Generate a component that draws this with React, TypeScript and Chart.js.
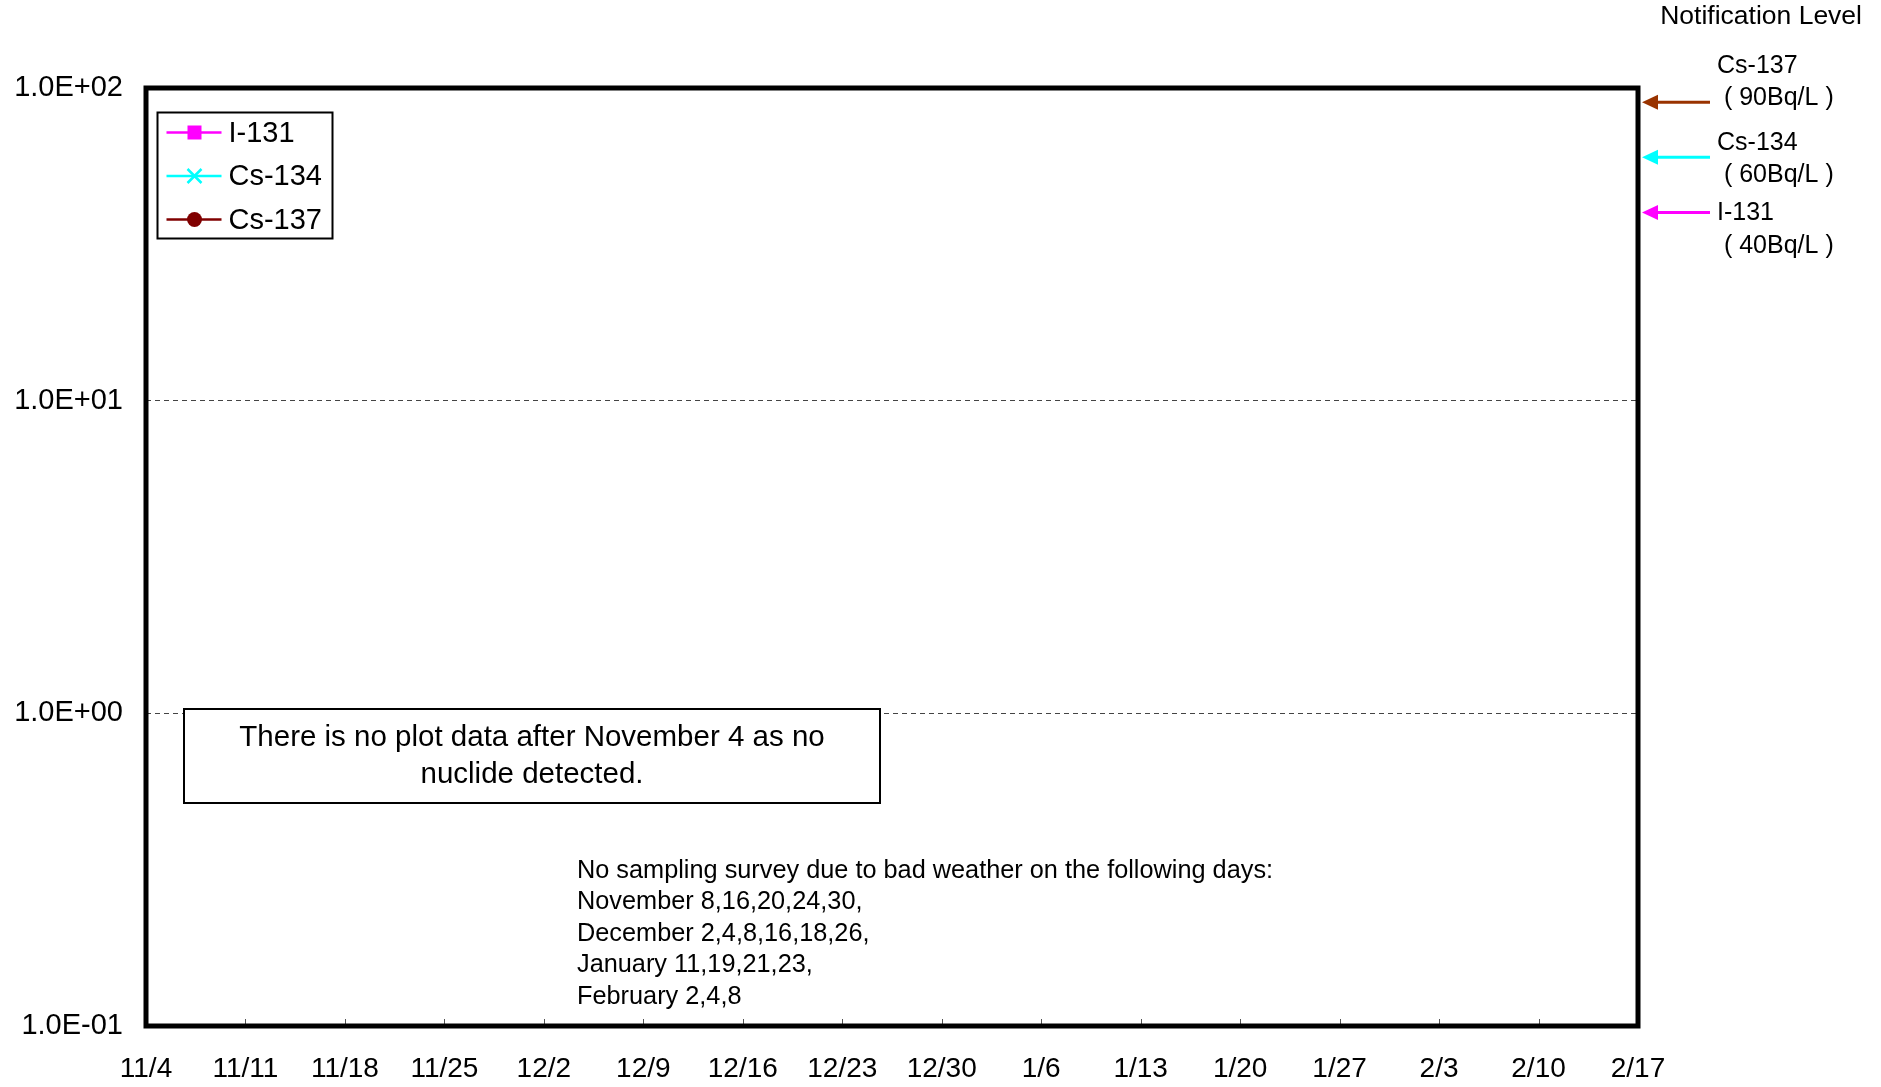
import React, { useEffect, useRef } from 'react';
import { Chart, registerables } from 'chart.js';

Chart.register(...registerables);

// weekly x-axis labels
const xLabels = ['11/4', '11/11', '11/18', '11/25', '12/2', '12/9', '12/16', '12/23', '12/30', '1/6', '1/13', '1/20', '1/27', '2/3', '2/10', '2/17'];

// y-axis decades and their labels
const yTickValues = [0.1, 1, 10, 100];
const yTickLabels = ['1.0E-01', '1.0E+00', '1.0E+01', '1.0E+02'];

// no nuclide detected after 11/4, so the series are empty
const i131Values: (number | null)[] = [];
const cs134Values: (number | null)[] = [];
const cs137Values: (number | null)[] = [];

// notification levels (Bq/L)
const levelNames = ['Cs-137', 'Cs-134', 'I-131'];
const levelValues = [90, 60, 40];
const levelLabels = [' ( 90Bq/L )', ' ( 60Bq/L )', ' ( 40Bq/L )'];
const levelColors = ['#993300', '#00FFFF', '#FF00FF'];

const noDataNote = ['There is no plot data after November 4 as no', 'nuclide detected.'];
const weatherNote = [
  'No sampling survey due to bad weather on the following days:',
  'November 8,16,20,24,30,',
  'December 2,4,8,16,18,26,',
  'January 11,19,21,23,',
  'February 2,4,8',
];

const FONT = "'Liberation Sans', Arial, 'Noto Sans CJK JP', sans-serif";

const drawMarker = (ctx: CanvasRenderingContext2D, style: string, x: number, y: number, color: string) => {
  ctx.save();
  ctx.fillStyle = color;
  ctx.strokeStyle = color;
  if (style === 'rect') {
    ctx.fillRect(x - 7, y - 7, 14, 14);
  } else if (style === 'cross') {
    ctx.lineWidth = 2.5;
    ctx.beginPath();
    ctx.moveTo(x - 7, y - 7);
    ctx.lineTo(x + 7, y + 7);
    ctx.moveTo(x + 7, y - 7);
    ctx.lineTo(x - 7, y + 7);
    ctx.stroke();
  } else {
    ctx.beginPath();
    ctx.arc(x, y, 7.5, 0, Math.PI * 2);
    ctx.fill();
  }
  ctx.restore();
};

const decorPlugin = {
  id: 'decor',
  afterDatasetsDraw(chart: any) {
    const { ctx, chartArea: a, scales } = chart;
    const x = scales.x;
    const y = scales.y;
    ctx.save();

    // inward tick marks on the x axis
    ctx.strokeStyle = '#555';
    ctx.lineWidth = 1;
    x.ticks.forEach((_t: any, i: number) => {
      const px = Math.round(x.getPixelForTick(i)) + 0.5;
      ctx.beginPath();
      ctx.moveTo(px, a.bottom);
      ctx.lineTo(px, a.bottom - 7);
      ctx.stroke();
    });

    // note box
    const bx = a.left + 38, by = 709, bw = 696, bh = 94;
    ctx.fillStyle = '#fff';
    ctx.fillRect(bx, by, bw, bh);
    ctx.strokeStyle = '#000';
    ctx.lineWidth = 2;
    ctx.strokeRect(bx, by, bw, bh);
    ctx.fillStyle = '#000';
    ctx.font = `29.5px ${FONT}`;
    ctx.textAlign = 'center';
    ctx.textBaseline = 'middle';
    noDataNote.forEach((t, i) => ctx.fillText(t, bx + bw / 2, by + 29 + i * 37));

    // bad weather note
    ctx.font = `25.3px ${FONT}`;
    ctx.textAlign = 'left';
    weatherNote.forEach((t, i) => ctx.fillText(t, 577, 871 + i * 31.5));

    // plot frame
    ctx.strokeStyle = '#000';
    ctx.lineWidth = 5;
    ctx.strokeRect(a.left, a.top, a.right - a.left, a.bottom - a.top);

    // legend
    const lx = a.left + 11.5, ly = a.top + 24.5;
    ctx.fillStyle = '#fff';
    ctx.fillRect(lx, ly, 175, 126);
    ctx.strokeStyle = '#000';
    ctx.lineWidth = 2;
    ctx.strokeRect(lx, ly, 175, 126);
    ctx.font = `29px ${FONT}`;
    ctx.textBaseline = 'middle';
    chart.data.datasets.forEach((ds: any, i: number) => {
      const ry = ly + 20 + i * 43.5;
      ctx.strokeStyle = ds.borderColor;
      ctx.lineWidth = 2.5;
      ctx.beginPath();
      ctx.moveTo(lx + 9, ry);
      ctx.lineTo(lx + 64, ry);
      ctx.stroke();
      drawMarker(ctx, ds.pointStyle, lx + 37, ry, ds.borderColor);
      ctx.fillStyle = '#000';
      ctx.fillText(ds.label, lx + 71, ry + 1);
    });

    // notification levels
    ctx.font = `26.5px ${FONT}`;
    ctx.textAlign = 'right';
    ctx.fillStyle = '#000';
    ctx.fillText('Notification Level', 1862, 17);
    const nameY = [66, 143, 213];
    const subY = [98, 175, 246];
    ctx.font = `25px ${FONT}`;
    ctx.textAlign = 'left';
    levelNames.forEach((n, i) => {
      ctx.fillStyle = '#000';
      ctx.fillText(n, 1717, nameY[i]);
      ctx.fillText(levelLabels[i], 1717, subY[i]);
      const py = y.getPixelForValue(levelValues[i]);
      const tip = a.right + 4;
      ctx.strokeStyle = levelColors[i];
      ctx.fillStyle = levelColors[i];
      ctx.lineWidth = 3;
      ctx.beginPath();
      ctx.moveTo(1710, py);
      ctx.lineTo(tip + 12, py);
      ctx.stroke();
      ctx.beginPath();
      ctx.moveTo(tip, py);
      ctx.lineTo(tip + 16, py - 7.5);
      ctx.lineTo(tip + 16, py + 7.5);
      ctx.closePath();
      ctx.fill();
    });

    ctx.restore();
  },
};

export default function App() {
  const canvasRef = useRef<HTMLCanvasElement>(null);

  useEffect(() => {
    if (!canvasRef.current) return;
    const chart = new Chart(canvasRef.current, {
      type: 'line',
      data: {
        labels: xLabels,
        datasets: [
          { label: 'I-131', data: i131Values, borderColor: '#FF00FF', backgroundColor: '#FF00FF', pointStyle: 'rect', borderWidth: 2.5 },
          { label: 'Cs-134', data: cs134Values, borderColor: '#00FFFF', backgroundColor: '#00FFFF', pointStyle: 'cross', borderWidth: 2.5 },
          { label: 'Cs-137', data: cs137Values, borderColor: '#800000', backgroundColor: '#800000', pointStyle: 'circle', borderWidth: 2.5 },
        ],
      },
      options: {
        animation: false,
        responsive: true,
        maintainAspectRatio: false,
        layout: { padding: { top: 88, right: 243, left: 0, bottom: 0 } },
        plugins: { legend: { display: false }, tooltip: { enabled: false } },
        scales: {
          x: {
            type: 'category',
            offset: false,
            grid: { display: false, drawTicks: false },
            border: { display: false },
            ticks: {
              autoSkip: false,
              maxRotation: 0,
              padding: 26,
              color: '#000',
              font: { family: FONT, size: 28 },
            },
            afterFit: (s: any) => { s.height = 61; },
          },
          y: {
            type: 'logarithmic',
            min: 0.1,
            max: 100,
            afterBuildTicks: (s: any) => { s.ticks = yTickValues.map((v) => ({ value: v })); },
            grid: {
              drawTicks: false,
              lineWidth: 1,
              color: (c: any) => (c.tick && (c.tick.value === 1 || c.tick.value === 10) ? '#444' : 'rgba(0,0,0,0)'),
            },
            border: { display: false, dash: [5, 4] },
            ticks: {
              padding: 23,
              color: '#000',
              font: { family: FONT, size: 29 },
              callback: (_v: any, i: number) => yTickLabels[i],
            },
            afterFit: (s: any) => { s.width = 146; },
          },
        },
      },
      plugins: [decorPlugin],
    });
    return () => chart.destroy();
  }, []);

  return (
    <div style={{ position: 'fixed', left: 0, top: 0, width: 1881, height: 1087, background: '#fff' }}>
      <canvas ref={canvasRef}></canvas>
    </div>
  );
}
